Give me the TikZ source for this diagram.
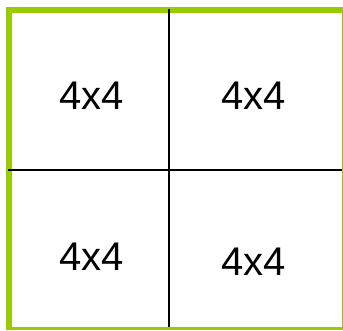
\documentclass[tikz,border=0pt]{standalone}
\usepackage{fontspec}
\setmainfont{Liberation Sans}
\definecolor{framegreen}{RGB}{153,204,0}
\begin{document}
\begin{tikzpicture}[x=1pt,y=-1pt,
  greenbar/.style={fill=framegreen,draw=none},
  gridline/.style={draw=black,line width=2.2pt},
  celltext/.style={anchor=base west,inner sep=0pt,font=\fontsize{40}{48}\selectfont}]
\useasboundingbox[fill=white] (0,0) rectangle (343,330);
% green frame
\fill[greenbar] (6,7) rectangle (12,330);
\fill[greenbar] (6,7) rectangle (343,12.5);
\fill[greenbar] (341.5,7) rectangle (343,330);
\fill[greenbar] (6,327) rectangle (343,330);
% grid lines
\coordinate (vt) at (168.9,9);
\coordinate (vb) at (168.9,327);
\coordinate (hl) at (8,170);
\coordinate (hr) at (341.5,170);
\draw[gridline] (vt) -- (vb);
\draw[gridline,line width=2pt] (hl) -- (hr);
% labels
\node[celltext] (tl) at (59.5,109) {4x4};
\node[celltext] (tr) at (221,109) {4x4};
\node[celltext] (bl) at (59.5,270) {4x4};
\node[celltext] (br) at (221,275.5) {4x4};
\end{tikzpicture}
\end{document}
